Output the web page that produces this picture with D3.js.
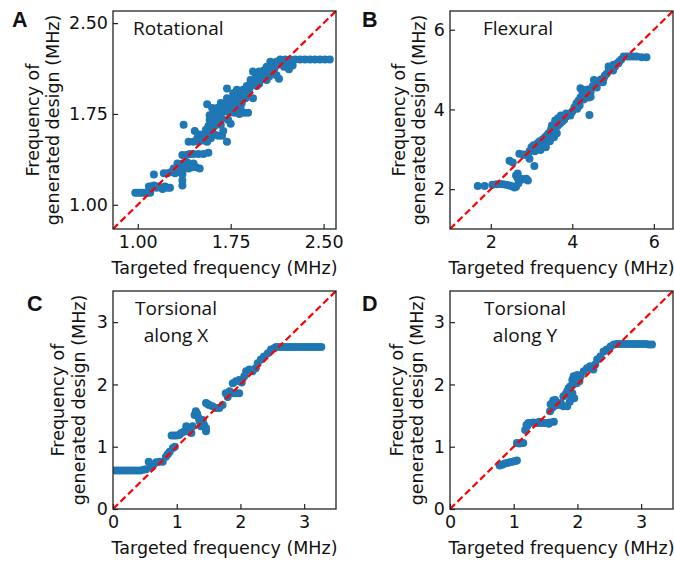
<!DOCTYPE html>
<html><head><meta charset="utf-8">
<script src="https://cdn.jsdelivr.net/npm/d3@7"></script>
<style>body{margin:0;background:#fff}svg{display:block}</style>
</head><body>
<svg id="c" width="674" height="561"></svg>
<script>
// [targeted frequency, frequency of generated design] in MHz
const rotational = [
[0.98,1.10],[1.00,1.10],[1.02,1.10],[1.04,1.10],[1.06,1.10],[1.08,1.10],[1.10,1.10],
[1.09,1.15],[1.11,1.15],[1.13,1.16],[1.15,1.15],[1.17,1.15],[1.19,1.14],[1.22,1.15],[1.26,1.14],
[1.15,1.14],[1.20,1.13],[1.24,1.14],[1.13,1.25],[1.36,1.16],[1.36,1.20],
[1.21,1.26],[1.24,1.26],[1.27,1.27],[1.30,1.26],[1.33,1.27],[1.36,1.25],
[1.29,1.30],[1.32,1.30],[1.35,1.31],[1.38,1.30],[1.41,1.30],[1.44,1.31],[1.47,1.31],[1.50,1.30],
[1.32,1.34],[1.36,1.34],[1.40,1.35],[1.45,1.34],
[1.36,1.41],[1.39,1.41],[1.42,1.42],[1.45,1.42],[1.49,1.42],[1.53,1.42],[1.57,1.43],
[1.37,1.66],[1.41,1.52],[1.45,1.52],[1.49,1.52],[1.53,1.53],[1.56,1.52],
[1.48,1.55],[1.53,1.56],[1.59,1.55],[1.50,1.58],[1.54,1.58],[1.58,1.59],[1.62,1.58],[1.65,1.57],
[1.56,1.83],[1.57,1.65],[1.62,1.65],[1.67,1.66],[1.60,1.62],[1.46,1.61],[1.55,1.62],
[1.58,1.70],[1.63,1.70],[1.68,1.71],[1.73,1.70],[1.58,1.74],[1.60,1.80],[1.62,1.72],[1.66,1.78],[1.70,1.82],
[1.61,1.76],[1.65,1.76],[1.70,1.77],[1.74,1.76],[1.78,1.76],[1.82,1.75],[1.86,1.76],[1.89,1.76],
[1.64,1.80],[1.69,1.80],[1.74,1.81],[1.79,1.80],[1.83,1.80],[1.75,1.67],[1.75,1.86],[1.78,1.90],[1.84,1.84],
[1.67,1.84],[1.72,1.84],[1.76,1.85],[1.80,1.84],
[1.72,1.88],[1.77,1.88],[1.82,1.89],[1.87,1.88],[1.93,1.88],[1.85,1.95],[1.90,1.95],
[1.72,1.96],[1.80,1.95],[1.68,1.57],[1.72,1.52],[1.69,1.61],
[1.77,1.92],[1.82,1.92],[1.88,1.93],[1.88,1.98],[1.92,1.99],[1.96,1.98],[1.98,2.00],
[1.91,2.03],[1.96,2.03],[2.00,2.04],[2.04,2.03],[1.95,2.05],[2.02,2.08],
[1.93,2.10],[1.98,2.10],[2.02,2.11],[2.07,2.10],[2.10,2.12],
[2.01,2.06],[2.06,2.06],[2.12,2.07],[2.14,2.04],
[2.04,2.14],[2.08,2.14],[2.12,2.15],[2.18,2.14],
[2.07,2.18],[2.12,2.18],[2.17,2.19],[2.21,2.19],
[2.20,2.15],[2.25,2.15],[2.22,2.12],
[2.15,2.20],[2.19,2.20],[2.23,2.20],[2.27,2.20],[2.31,2.20],[2.35,2.20],[2.39,2.20],[2.43,2.20],[2.47,2.20],[2.51,2.20],[2.55,2.20]
];
const flexural = [
[1.68,2.08],[1.85,2.08],[2.04,2.11],[2.14,2.12],[2.22,2.13],[2.30,2.12],[2.38,2.11],[2.46,2.09],[2.52,2.07],[2.58,2.04],[2.62,2.06],
[2.46,2.71],[2.54,2.67],
[2.62,2.34],[2.66,2.39],[2.70,2.22],[2.74,2.26],[2.66,2.28],[2.80,2.25],[2.87,2.26],[2.91,2.22],[2.68,2.15],
[2.70,2.89],[2.79,2.87],[2.85,2.86],[2.95,2.76],[3.07,2.58],
[2.90,2.85],[2.95,2.95],[3.00,3.05],[3.05,3.10],[3.08,2.95],[3.12,3.02],[3.15,3.15],[3.18,3.05],[3.20,3.20],[3.22,2.98],
[3.25,3.12],[3.28,3.25],[3.30,3.20],[3.33,3.30],[3.35,3.15],[3.38,3.35],[3.40,3.28],[3.42,3.40],[3.45,3.38],[3.48,3.50],
[3.50,3.42],[3.52,3.55],[3.55,3.48],[3.57,3.62],[3.60,3.55],[3.62,3.68],[3.65,3.60],[3.68,3.72],[3.70,3.65],[3.72,3.76],
[3.75,3.70],[3.78,3.80],[3.80,3.74],[3.85,3.82],[3.90,3.88],[3.95,3.85],[4.00,3.95],[4.05,4.05],[4.10,4.15],[4.12,4.02],
[4.15,4.22],[4.18,4.10],[4.20,4.30],[4.25,4.40],[4.28,4.25],[4.30,4.45],[4.35,4.35],[4.38,4.50],[4.40,4.30],[4.45,4.45],
[4.50,4.58],[4.55,4.62],[4.60,4.55],[4.65,4.70],[4.70,4.75],[4.75,4.68],[4.80,4.85],[4.85,4.90],[4.90,5.00],[4.95,5.05],
[5.00,4.98],[5.05,5.08],[5.10,5.15],[5.15,5.20],[5.20,5.25],
[3.35,3.05],[3.45,3.20],[3.55,3.30],[3.62,3.40],[3.50,3.60],[3.58,3.72],[3.65,3.78],[3.72,3.85],[3.85,3.90],[3.96,3.90],
[4.42,3.86],[4.20,4.53],[4.28,4.49],[4.45,4.32],[4.53,4.74],[4.69,4.70],[4.77,4.78],[4.89,5.08],[5.01,5.12],[5.13,5.16],
[5.26,5.33],[5.34,5.33],[5.42,5.33],[5.50,5.33],[5.58,5.33],[5.70,5.31],[5.82,5.31]
];
const torsionalX = [
[0.03,0.62],[0.08,0.62],[0.13,0.62],[0.18,0.62],[0.23,0.62],[0.28,0.62],[0.33,0.62],[0.38,0.62],[0.43,0.62],[0.48,0.63],
[0.52,0.64],[0.56,0.76],[0.60,0.68],[0.64,0.72],[0.68,0.75],[0.73,0.76],[0.78,0.76],[0.83,0.84],[0.86,0.88],[0.89,0.92],[0.94,0.98],[0.97,1.00],
[0.92,1.18],[0.96,1.18],[1.00,1.18],[1.04,1.19],[1.07,1.22],[1.11,1.24],[1.15,1.33],[1.17,1.25],[1.20,1.30],[1.23,1.22],[1.25,1.33],
[1.28,1.51],[1.30,1.57],[1.33,1.49],[1.36,1.41],[1.38,1.33],[1.41,1.43],[1.43,1.35],[1.46,1.25],[1.46,1.30],[1.32,1.53],[1.35,1.45],
[1.46,1.70],[1.51,1.67],[1.56,1.65],[1.62,1.62],[1.67,1.62],[1.72,1.67],[1.49,1.68],
[1.77,1.86],[1.83,1.89],[1.88,1.86],[1.93,1.86],[1.98,1.86],[1.80,1.80],
[1.88,2.02],[1.93,2.05],[1.98,2.07],[2.02,2.03],[2.06,2.13],[2.09,2.21],[2.14,2.24],[2.19,2.21],[2.24,2.26],[2.27,2.34],
[2.32,2.40],[2.37,2.45],[2.43,2.50],[2.48,2.56],[2.53,2.58],
[2.56,2.60],[2.62,2.60],[2.67,2.60],[2.72,2.60],[2.77,2.60],[2.82,2.60],[2.87,2.60],[2.92,2.60],[2.97,2.60],[3.02,2.60],[3.07,2.60],[3.12,2.60],[3.17,2.60],[3.22,2.60],[3.27,2.60]
];
const torsionalY = [
[0.78,0.70],[0.82,0.71],[0.86,0.73],[0.90,0.74],[0.94,0.75],[0.98,0.76],[1.02,0.77],[1.05,0.78],
[1.05,1.06],[1.09,1.05],[1.12,1.06],[1.15,1.06],
[1.18,1.27],[1.21,1.33],[1.23,1.38],[1.26,1.38],[1.31,1.39],[1.36,1.38],[1.42,1.38],[1.47,1.38],[1.52,1.38],[1.57,1.39],[1.63,1.40],[1.20,1.35],[1.40,1.40],[1.55,1.37],
[1.57,1.57],[1.60,1.62],[1.63,1.65],[1.65,1.75],[1.70,1.67],[1.74,1.70],[1.78,1.65],[1.84,1.65],[1.88,1.72],[1.58,1.68],[1.62,1.74],
[1.78,1.81],[1.82,1.85],[1.84,1.89],[1.86,1.94],[1.89,1.97],[1.92,2.07],[1.94,2.13],[1.95,1.78],[1.92,1.86],[1.90,1.80],
[1.97,2.10],[1.99,2.02],[2.00,2.15],[2.02,2.08],[2.03,2.05],[2.05,2.13],[2.10,2.21],[2.15,2.26],[2.20,2.29],[2.25,2.24],[2.28,2.32],
[2.31,2.40],[2.36,2.45],[2.41,2.53],[2.46,2.56],[2.52,2.61],[2.57,2.64],
[2.62,2.65],[2.67,2.65],[2.72,2.65],[2.77,2.65],[2.82,2.65],[2.87,2.65],[2.92,2.65],[2.97,2.65],[3.02,2.65],[3.07,2.65],[3.12,2.64],[3.17,2.64]
];

const domainA = [0.8, 2.6], domainB = [1.0, 6.47], domainCD = [0, 3.5];
const ticksA = [1.00, 1.75, 2.50], ticksB = [2, 4, 6], ticksCD = [0, 1, 2, 3];
const titles = { A: ["Rotational"], B: ["Flexural"], C: ["Torsional", "along X"], D: ["Torsional", "along Y"] };
const yLabelLines = ["Frequency of", "generated design (MHz)"];
const xLabel = "Targeted frequency (MHz)";

const svg = d3.select("#c");
const W = 223, H = 218;
const DV = "'DejaVu Sans', sans-serif";
const panels = [
  {id:"A", data:rotational, domain:domainA, ticks:ticksA, fmt:d3.format(".2f"), left:113, top:11,
   titleX:20, anchor:"start", ylab:[-80,-60], letterX:12, letterY:27},
  {id:"B", data:flexural, domain:domainB, ticks:ticksB, fmt:d3.format("d"), left:450, top:11,
   titleX:33, anchor:"start", ylab:[-51,-31], letterX:362, letterY:27},
  {id:"C", data:torsionalX, domain:domainCD, ticks:ticksCD, fmt:d3.format("d"), left:113, top:291,
   titleX:63, anchor:"middle", ylab:[-55,-34], letterX:27, letterY:311},
  {id:"D", data:torsionalY, domain:domainCD, ticks:ticksCD, fmt:d3.format("d"), left:450, top:291,
   titleX:75, anchor:"middle", ylab:[-53,-33], letterX:362, letterY:311}
];

panels.forEach(p => {
  const g = svg.append("g").attr("transform", `translate(${p.left},${p.top})`);
  const x = d3.scaleLinear().domain(p.domain).range([0, W]);
  const y = d3.scaleLinear().domain(p.domain).range([H, 0]);

  g.append("clipPath").attr("id", "clip" + p.id)
    .append("rect").attr("width", W).attr("height", H);

  // scatter
  g.append("g").attr("clip-path", `url(#clip${p.id})`)
    .selectAll("circle").data(p.data).join("circle")
    .attr("cx", d => x(d[0])).attr("cy", d => y(d[1]))
    .attr("r", 4.0).attr("fill", "#1f77b4");

  // y = x reference line
  g.append("line").attr("clip-path", `url(#clip${p.id})`)
    .attr("x1", x(p.domain[0])).attr("y1", y(p.domain[0]))
    .attr("x2", x(p.domain[1])).attr("y2", y(p.domain[1]))
    .attr("stroke", "#ff0000").attr("stroke-width", 2.2)
    .attr("stroke-dasharray", "7,3.5");

  // axes (inward ticks)
  const ax = g.append("g").attr("transform", `translate(0,${H})`)
    .call(d3.axisBottom(x).tickValues(p.ticks).tickFormat(p.fmt).tickSize(-5).tickPadding(7));
  const ay = g.append("g")
    .call(d3.axisLeft(y).tickValues(p.ticks).tickFormat(p.fmt).tickSize(-5).tickPadding(5));
  [ax, ay].forEach(a => {
    a.select(".domain").remove();
    a.selectAll("line").attr("stroke", "#222").attr("stroke-width", 1.2);
    a.selectAll("text").attr("font-family", DV).attr("font-size", 17.5).attr("fill", "#111");
  });

  // frame
  g.append("rect").attr("width", W).attr("height", H)
    .attr("fill", "none").attr("stroke", "#222").attr("stroke-width", 1.3);

  // x label
  g.append("text").attr("x", W / 2).attr("y", H + 45)
    .attr("text-anchor", "middle").attr("font-family", DV).attr("font-size", 17.5)
    .attr("fill", "#111").text(xLabel);

  // y label (two lines)
  yLabelLines.forEach((t, i) => {
    g.append("text")
      .attr("transform", `translate(${p.ylab[i]},${H / 2}) rotate(-90)`)
      .attr("text-anchor", "middle").attr("dominant-baseline", "central")
      .attr("font-family", DV).attr("font-size", 17.5).attr("fill", "#111").text(t);
  });

  // panel title
  titles[p.id].forEach((t, i) => {
    g.append("text").attr("x", p.titleX).attr("y", 24 + i * 27)
      .attr("text-anchor", p.anchor).attr("font-family", "'Open Sans', sans-serif")
      .attr("font-size", 19).attr("fill", "#111").text(t);
  });

  // panel letter
  svg.append("text").attr("x", p.letterX).attr("y", p.letterY)
    .attr("font-family", "'Liberation Sans', Arial, sans-serif").attr("font-weight", "bold")
    .attr("font-size", 21.5).attr("fill", "#111").text(p.id);
});
</script>
</body></html>
